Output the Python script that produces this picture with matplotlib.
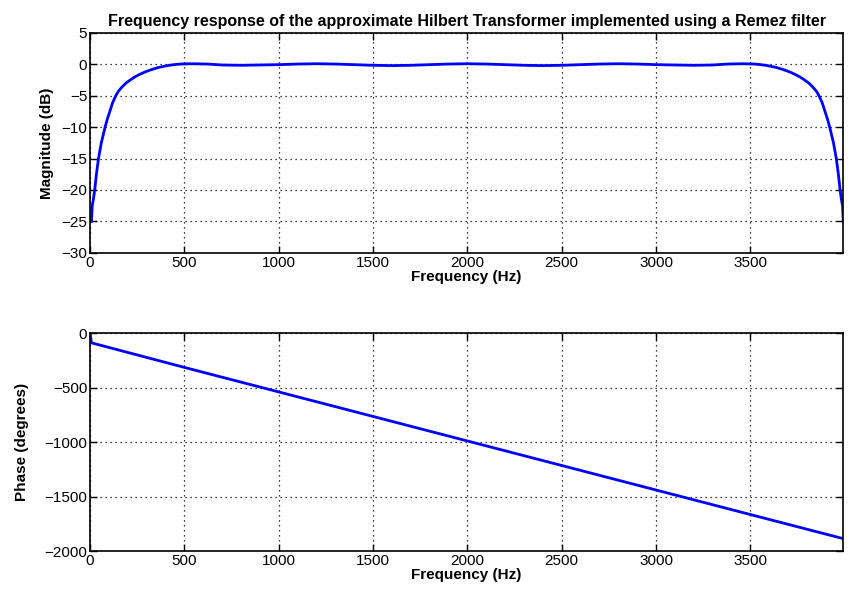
import numpy as np
import matplotlib
matplotlib.use("Agg")
import matplotlib.pyplot as plt

plt.rcParams["font.family"] = ["Liberation Sans", "DejaVu Sans"]
plt.rcParams["font.size"] = 11

# magnitude response (Hz, dB)
mag_freq = [8, 12, 18, 25, 34, 45, 60, 80, 92, 105, 120, 135, 150, 170, 190,
            215, 235, 260, 285, 310, 335, 360, 390, 420, 450, 480, 540, 620,
            700, 800, 900, 1000, 1100, 1200, 1300, 1400, 1500, 1600, 1700,
            1800, 1900, 2000, 2100, 2200, 2300, 2400, 2500, 2600, 2700, 2800,
            2900, 3000, 3100, 3200, 3300, 3380, 3460, 3520, 3550, 3580, 3610,
            3640, 3665, 3690, 3715, 3740, 3765, 3785, 3810, 3830, 3850, 3865,
            3880, 3895, 3908, 3920, 3940, 3955, 3966, 3975, 3982, 3988, 3992]
mag_db = [-25, -22.5, -21.5, -20, -17.5, -15, -12.5, -10, -8.7, -7.5, -6.1,
          -5.1, -4.3, -3.6, -3.0, -2.45, -2.05, -1.65, -1.3, -1.0, -0.75,
          -0.52, -0.32, -0.15, -0.03, 0.05, 0.1, 0.05, -0.1, -0.15, -0.1,
          -0.05, 0.05, 0.1, 0.05, -0.05, -0.15, -0.2, -0.15, -0.05, 0.05, 0.1,
          0.05, -0.05, -0.15, -0.2, -0.15, -0.05, 0.05, 0.1, 0.05, -0.05, -0.1,
          -0.15, -0.1, 0.05, 0.1, 0.05, -0.03, -0.15, -0.32, -0.52, -0.75,
          -1.0, -1.3, -1.65, -2.05, -2.45, -3.0, -3.6, -4.3, -5.1, -6.1, -7.5,
          -8.7, -10, -12.5, -15, -17.5, -20, -21.5, -22.5, -25]

# phase response (Hz, degrees)
ph_freq = [0, 8, 500, 1000, 1500, 2000, 2500, 3000, 3500, 3992]
ph_deg = [0, -90, -315, -540, -765, -990, -1215, -1440, -1665, -1886]

xticks = [0, 500, 1000, 1500, 2000, 2500, 3000, 3500]

fig = plt.figure(figsize=(8.57, 5.99), dpi=100)
ax1 = fig.add_axes([0.105, 0.578, 0.879, 0.367])
ax2 = fig.add_axes([0.105, 0.080, 0.879, 0.364])

ax1.plot(mag_freq, mag_db, color="#0000ff", linewidth=2.0)
ax1.set_ylim(-30, 5)
ax1.set_yticks(range(-30, 6, 5))
ax1.set_ylabel("Magnitude (dB)", fontweight="bold")
ax1.yaxis.set_label_coords(-0.048, 0.5)
ax1.set_title("Frequency response of the approximate Hilbert Transformer implemented using a Remez filter",
              fontweight="bold", fontsize=11.5, pad=5)

ax2.plot(ph_freq, ph_deg, color="#0000ff", linewidth=2.0)
ax2.set_ylim(-2000, 0)
ax2.set_yticks(range(-2000, 1, 500))
ax2.set_ylabel("Phase (degrees)", fontweight="bold")
ax2.yaxis.set_label_coords(-0.081, 0.5)

for ax in (ax1, ax2):
    ax.set_xlim(0, 3992)
    ax.set_xticks(xticks)
    ax.set_xlabel("Frequency (Hz)", fontweight="bold", labelpad=0)
    ax.grid(True, color="black", linestyle=(0, (1, 3)), linewidth=0.9)
    ax.tick_params(direction="in", top=True, right=True, length=5, width=1.0,
                   labelsize=11, pad=2)
    for s in ax.spines.values():
        s.set_linewidth(1.2)

plt.savefig("out.png", dpi=100)
